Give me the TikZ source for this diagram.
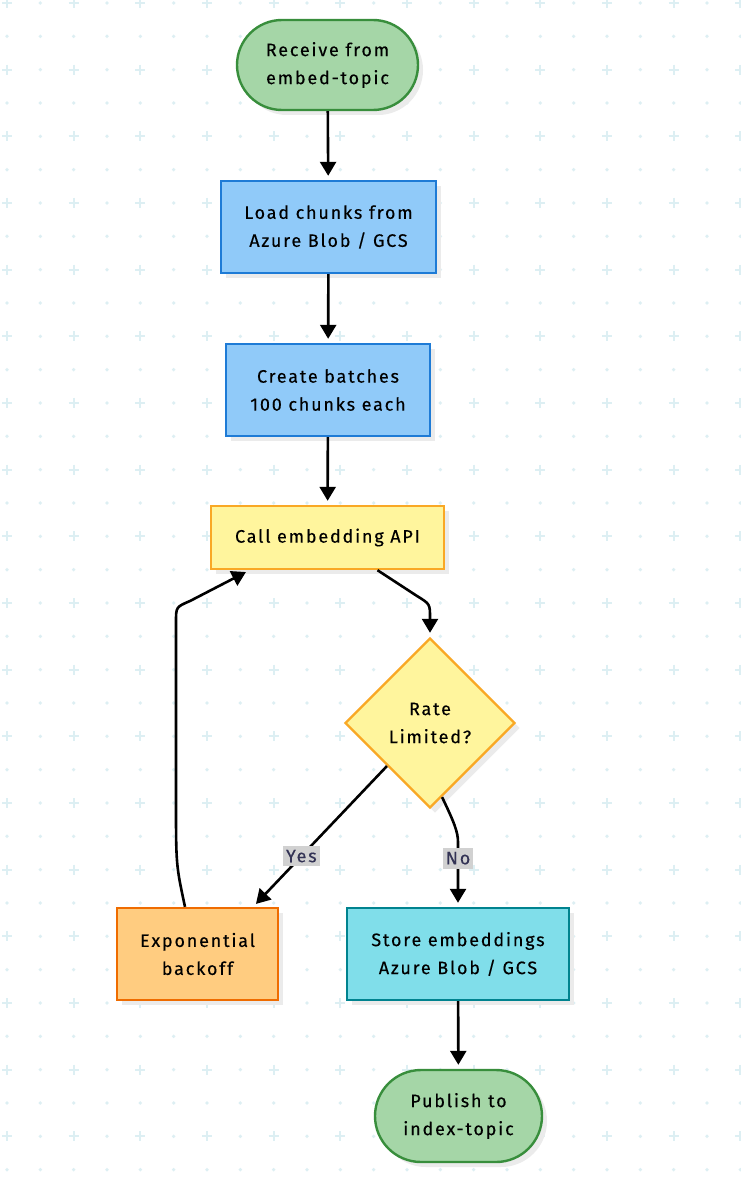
\documentclass[tikz,border=0pt]{standalone}
\usepackage{fontspec}
\setmainfont{Fira Sans}
\newfontfamily\nodefont[LetterSpace=10,FakeBold=0.3]{Fira Sans}
\usetikzlibrary{arrows.meta,shapes.geometric,shadows,calc}
\definecolor{grn}{HTML}{A5D6A7}\definecolor{grnd}{HTML}{388E3C}
\definecolor{blu}{HTML}{90CAF9}\definecolor{blud}{HTML}{1E7BD6}
\definecolor{yel}{HTML}{FFF59D}\definecolor{yeld}{HTML}{F9A825}
\definecolor{org}{HTML}{FFCC80}\definecolor{orgd}{HTML}{EF6C00}
\definecolor{cyn}{HTML}{80DEEA}\definecolor{cynd}{HTML}{00838F}
\definecolor{bgpat}{HTML}{DDEFF3}
\definecolor{lbltxt}{HTML}{333355}
\tikzset{
  base/.style={line width=2.4pt, align=center, inner sep=0pt,
    font=\nodefont\fontsize{18}{28}\selectfont, text=black,
    drop shadow={shadow xshift=5pt, shadow yshift=-5pt, fill=black!8, opacity=1}},
  term/.style={base, fill=grn, draw=grnd, rounded corners=45pt},
  proc/.style={base, fill=blu, draw=blud, rectangle},
  callbox/.style={base, fill=yel, draw=yeld, rectangle},
  dec/.style={base, fill=yel, draw=yeld, diamond, aspect=1},
  back/.style={base, fill=org, draw=orgd, rectangle},
  store/.style={base, fill=cyn, draw=cynd, rectangle},
  arr/.style={line width=2.6pt, draw=black, -{Triangle[length=14pt,width=16pt]}, shorten >=4pt},
  lbl/.style={fill=black!18, text=lbltxt, inner xsep=3pt, inner ysep=4pt, font=\nodefont\fontsize{18}{20}\selectfont}
}
\begin{document}
\begin{tikzpicture}[x=1pt,y=-1pt]
\fill[white] (0,0) rectangle (740,1188);
\useasboundingbox (0,0) rectangle (740,1188);
% background pattern
\foreach \i in {0,...,22}{
  \foreach \j in {0,...,35}{
    \pgfmathsetmacro{\px}{7+33.333*\i}
    \pgfmathsetmacro{\py}{3+33.333*\j}
    \pgfmathparse{(mod(\i,2)==0 && mod(\j,2)==0) ? 1 : 0}
    \ifnum\pgfmathresult=1
      \draw[bgpat, line width=2.3pt] (\px-5,\py) -- (\px+5,\py) (\px,\py-5) -- (\px,\py+5);
    \else
      \fill[bgpat] (\px,\py) circle (1.9pt);
    \fi
  }
}
% nodes
\node[term, minimum width=181pt, minimum height=90pt] (start) at (327.5,65) {Receive from\\embed-topic};
\node[proc, minimum width=215pt, minimum height=92pt] (load) at (328.5,227) {Load chunks from\\Azure Blob / GCS};
\node[proc, minimum width=204pt, minimum height=92pt] (batch) at (328,390) {Create batches\\100 chunks each};
\node[callbox, minimum width=233pt, minimum height=63pt] (call) at (327.5,537.5) {Call embedding API};
\node[dec, minimum width=170pt, minimum height=170pt] (dia) at (430,723) {Rate\\Limited?};
\node[back, minimum width=161pt, minimum height=92pt] (back) at (197.5,954) {Exponential\\backoff};
\node[store, minimum width=222pt, minimum height=92pt] (store) at (458,954) {Store embeddings\\Azure Blob / GCS};
\node[term, minimum width=167pt, minimum height=92pt, rounded corners=46pt] (pub) at (458.5,1116) {Publish to\\index-topic};
% edges
\draw[arr] (start) -- (load);
\draw[arr] (load) -- (batch);
\draw[arr] (batch) -- (call);
\draw[arr] ([xshift=50pt]call.south) -- (417,596) .. controls (430,604) .. (430,618) -- (dia.north);
\draw[arr] ($(dia.west)!0.5!(dia.south)$) -- ([xshift=-26pt]back.north east)
  node[lbl, pos=0.64] {Yes};
\draw[arr] ($(dia.south)!0.14!(dia.east)$) .. controls (454,822) and (458,832) .. (458,842) -- (store.north)
  node[lbl, pos=0.25] {No};
\draw[arr] ([xshift=-12.5pt]back.north) .. controls (176,865) .. (176,800) -- (176,622)
  .. controls (176,607) .. (190,601) -- ([xshift=-78pt]call.south);
\draw[arr] (store) -- (pub);
\end{tikzpicture}
\end{document}
